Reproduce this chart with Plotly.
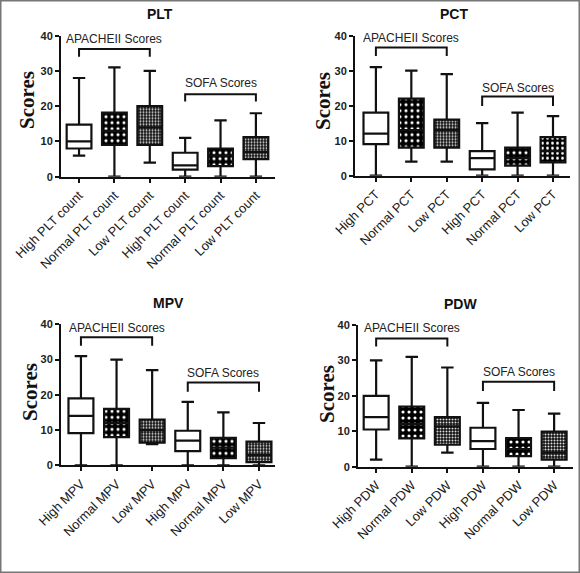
import plotly.graph_objects as go

# ---------------- data ----------------
PLT_LABELS = ["High PLT count", "Normal PLT count", "Low PLT count",
              "High PLT count", "Normal PLT count", "Low PLT count"]
PLT_LOWER = [6, 0, 4, 0, 0, 0]
PLT_Q1 = [8, 9, 9, 2, 3, 5]
PLT_MEDIAN = [10, 13, 14, 3.2, 6, 7]
PLT_Q3 = [14.8, 18.2, 20, 6.8, 8, 11.2]
PLT_UPPER = [28, 31, 30, 11, 16, 18]

PCT_LABELS = ["High PCT", "Normal PCT", "Low PCT", "High PCT", "Normal PCT", "Low PCT"]
PCT_LOWER = [0, 4, 4, 0, 0, 0]
PCT_Q1 = [9, 8, 8, 1.8, 2.9, 3.8]
PCT_MEDIAN = [12, 13, 13, 5, 5, 7]
PCT_Q3 = [18, 22, 16, 7, 8, 11]
PCT_UPPER = [31, 30, 29, 15, 18, 17]

MPV_LABELS = ["High MPV", "Normal MPV", "Low MPV", "High MPV", "Normal MPV", "Low MPV"]
MPV_LOWER = [0, 0, 6, 0, 0, 0]
MPV_Q1 = [9.1, 8, 6.4, 4, 2, 0.9]
MPV_MEDIAN = [14, 12, 10, 7, 5, 2.9]
MPV_Q3 = [19, 16, 13, 9.8, 7.8, 6.7]
MPV_UPPER = [31, 30, 27, 18, 15, 12]

PDW_LABELS = ["High PDW", "Normal PDW", "Low PDW", "High PDW", "Normal PDW", "Low PDW"]
PDW_LOWER = [2, 0, 4, 0, 0, 0]
PDW_Q1 = [10.5, 8, 6.2, 5, 3, 2]
PDW_MEDIAN = [14, 12, 11.4, 7.2, 5, 4]
PDW_Q3 = [20, 17, 14, 11, 8.1, 9.9]
PDW_UPPER = [30, 31, 28, 18, 16, 15]

GROUP_LABELS = ["APACHEII Scores", "SOFA Scores"]
Y_TICKS = [0, 10, 20, 30, 40]

# ---------------- styles ----------------
W, H = 580, 573
FILLS_DEFAULT = ["plain", "dots", "fine", "plain", "dots", "fine"]
FILLS_PCT = ["plain", "dots", "fine", "plain", "dots", "mid"]

PATTERNS = {
    "dots": dict(shape=".", fgcolor="white", bgcolor="black", size=6, solidity=0.22, fillmode="replace"),
    "mid": dict(shape=".", fgcolor="white", bgcolor="black", size=5, solidity=0.25, fillmode="replace"),
    "fine": dict(shape=".", fgcolor="#ddd", bgcolor="#111", size=3, solidity=0.35, fillmode="replace"),
}

panels = [
    dict(name="PLT", labels=PLT_LABELS, lo=PLT_LOWER, q1=PLT_Q1, me=PLT_MEDIAN, q3=PLT_Q3, up=PLT_UPPER,
         px=(61, 275), py=(176.7, 35.7), xr=(-0.51, 5.54), fills=FILLS_DEFAULT,
         title=(160, 14), ytitle=(27, 100),
         br=[(39.0, 36.2, 34.0), (26.7, 23.4, 21.3)]),
    dict(name="PCT", labels=PCT_LABELS, lo=PCT_LOWER, q1=PCT_Q1, me=PCT_MEDIAN, q3=PCT_Q3, up=PCT_UPPER,
         px=(355, 570), py=(175.7, 35.7), xr=(-0.59, 5.48), fills=FILLS_PCT,
         title=(454, 14), ytitle=(323, 101),
         br=[(39.4, 36.6, 34.2), (25.2, 22.6, 19.9)]),
    dict(name="MPV", labels=MPV_LABELS, lo=MPV_LOWER, q1=MPV_Q1, me=MPV_MEDIAN, q3=MPV_Q3, up=MPV_UPPER,
         px=(61, 275), py=(465.3, 324.3), xr=(-0.56, 5.45), fills=FILLS_DEFAULT,
         title=(168, 303), ytitle=(30, 392),
         br=[(38.9, 36.3, 33.9), (26.1, 23.5, 20.9)]),
    dict(name="PDW", labels=PDW_LABELS, lo=PDW_LOWER, q1=PDW_Q1, me=PDW_MEDIAN, q3=PDW_Q3, up=PDW_UPPER,
         px=(358, 573), py=(466.7, 325.0), xr=(-0.51, 5.53), fills=FILLS_DEFAULT,
         title=(460, 304), ytitle=(327, 394),
         br=[(39.1, 36.2, 33.9), (26.6, 24.0, 21.4)]),
]

fig = go.Figure()
annotations = []
shapes = []
layout_axes = {}
BOXW = 0.7
LINE = "#111"

for i, p in enumerate(panels):
    n = i + 1
    xa = "x" if n == 1 else f"x{n}"
    ya = "y" if n == 1 else f"y{n}"
    positions = list(range(len(p["labels"])))
    for k, pos in enumerate(positions):
        fill = p["fills"][k]
        if fill != "plain":
            fig.add_trace(go.Bar(
                x=[pos], y=[p["q3"][k] - p["q1"][k]], base=[p["q1"][k]], width=BOXW,
                marker=dict(color="black", line=dict(width=0), pattern=PATTERNS[fill]),
                xaxis=xa, yaxis=ya, showlegend=False, hoverinfo="skip"))
        fig.add_trace(go.Box(
            x=[pos], q1=[p["q1"][k]], median=[p["me"][k]], q3=[p["q3"][k]],
            lowerfence=[p["lo"][k]], upperfence=[p["up"][k]],
            width=BOXW, whiskerwidth=0.5,
            fillcolor="white" if fill == "plain" else "rgba(0,0,0,0)",
            line=dict(color=LINE, width=2.2), boxpoints=False,
            xaxis=xa, yaxis=ya, showlegend=False, hoverinfo="skip"))

    x0, x1 = p["px"]
    y0, y1 = p["py"]
    axis_font = dict(family="Arial, Liberation Sans", size=13, color="#1a1a1a")
    layout_axes[("xaxis" if n == 1 else f"xaxis{n}")] = dict(
        domain=[x0 / W, x1 / W], anchor=ya, range=list(p["xr"]), automargin=False,
        tickmode="array", tickvals=positions, ticktext=p["labels"], tickangle=-45,
        ticks="outside", ticklen=4, tickwidth=2, tickcolor=LINE,
        showline=True, linecolor=LINE, linewidth=2, showgrid=False, zeroline=False,
        tickfont=axis_font, fixedrange=True)
    layout_axes[("yaxis" if n == 1 else f"yaxis{n}")] = dict(
        domain=[1 - y0 / H, 1 - y1 / H], anchor=xa, range=[0, 40], automargin=False,
        tickmode="array", tickvals=Y_TICKS,
        ticks="outside", ticklen=4, tickwidth=2, tickcolor=LINE,
        showline=True, linecolor=LINE, linewidth=2, showgrid=False, zeroline=False,
        tickfont=dict(family="Arial, Liberation Sans", size=11, color="#222", weight="bold"),
        fixedrange=True)

    tx, ty = p["title"]
    annotations.append(dict(text=p["name"], x=tx / W, y=1 - ty / H, xref="paper", yref="paper",
                            showarrow=False, xanchor="center", yanchor="middle",
                            font=dict(family="Arial, Liberation Sans", size=14, color="#111", weight="bold")))
    sx, sy = p["ytitle"]
    annotations.append(dict(text="Scores", x=sx / W, y=1 - sy / H, xref="paper", yref="paper",
                            showarrow=False, textangle=-90, xanchor="center", yanchor="middle",
                            font=dict(family="Liberation Serif, Times New Roman", size=21, color="#111",
                                      weight="bold")))
    for g, (lab, (ty_, by, ey)) in enumerate(zip(GROUP_LABELS, p["br"])):
        a, b = 3 * g, 3 * g + 2
        shapes.append(dict(type="path", xref=xa, yref=ya,
                           path=f"M {a},{ey} L {a},{by} L {b},{by} L {b},{ey}",
                           line=dict(color=LINE, width=2)))
        annotations.append(dict(text=lab, x=(a + b) / 2, y=ty_, xref=xa, yref=ya,
                                showarrow=False, xanchor="center", yanchor="middle",
                                font=dict(family="Arial, Liberation Sans", size=12, color="#222")))

shapes.append(dict(type="rect", xref="paper", yref="paper", x0=0, x1=1, y0=0, y1=1,
                   line=dict(color="#777", width=3)))

fig.update_layout(
    width=W, height=H, margin=dict(l=0, r=0, t=0, b=0, autoexpand=False),
    paper_bgcolor="white", plot_bgcolor="white",
    boxmode="overlay", barmode="overlay",
    annotations=annotations, shapes=shapes, showlegend=False,
    **layout_axes)

fig.write_html("out.html", config={"displayModeBar": False},
               post_script="document.body.style.margin='0';document.body.style.overflow='hidden';")
